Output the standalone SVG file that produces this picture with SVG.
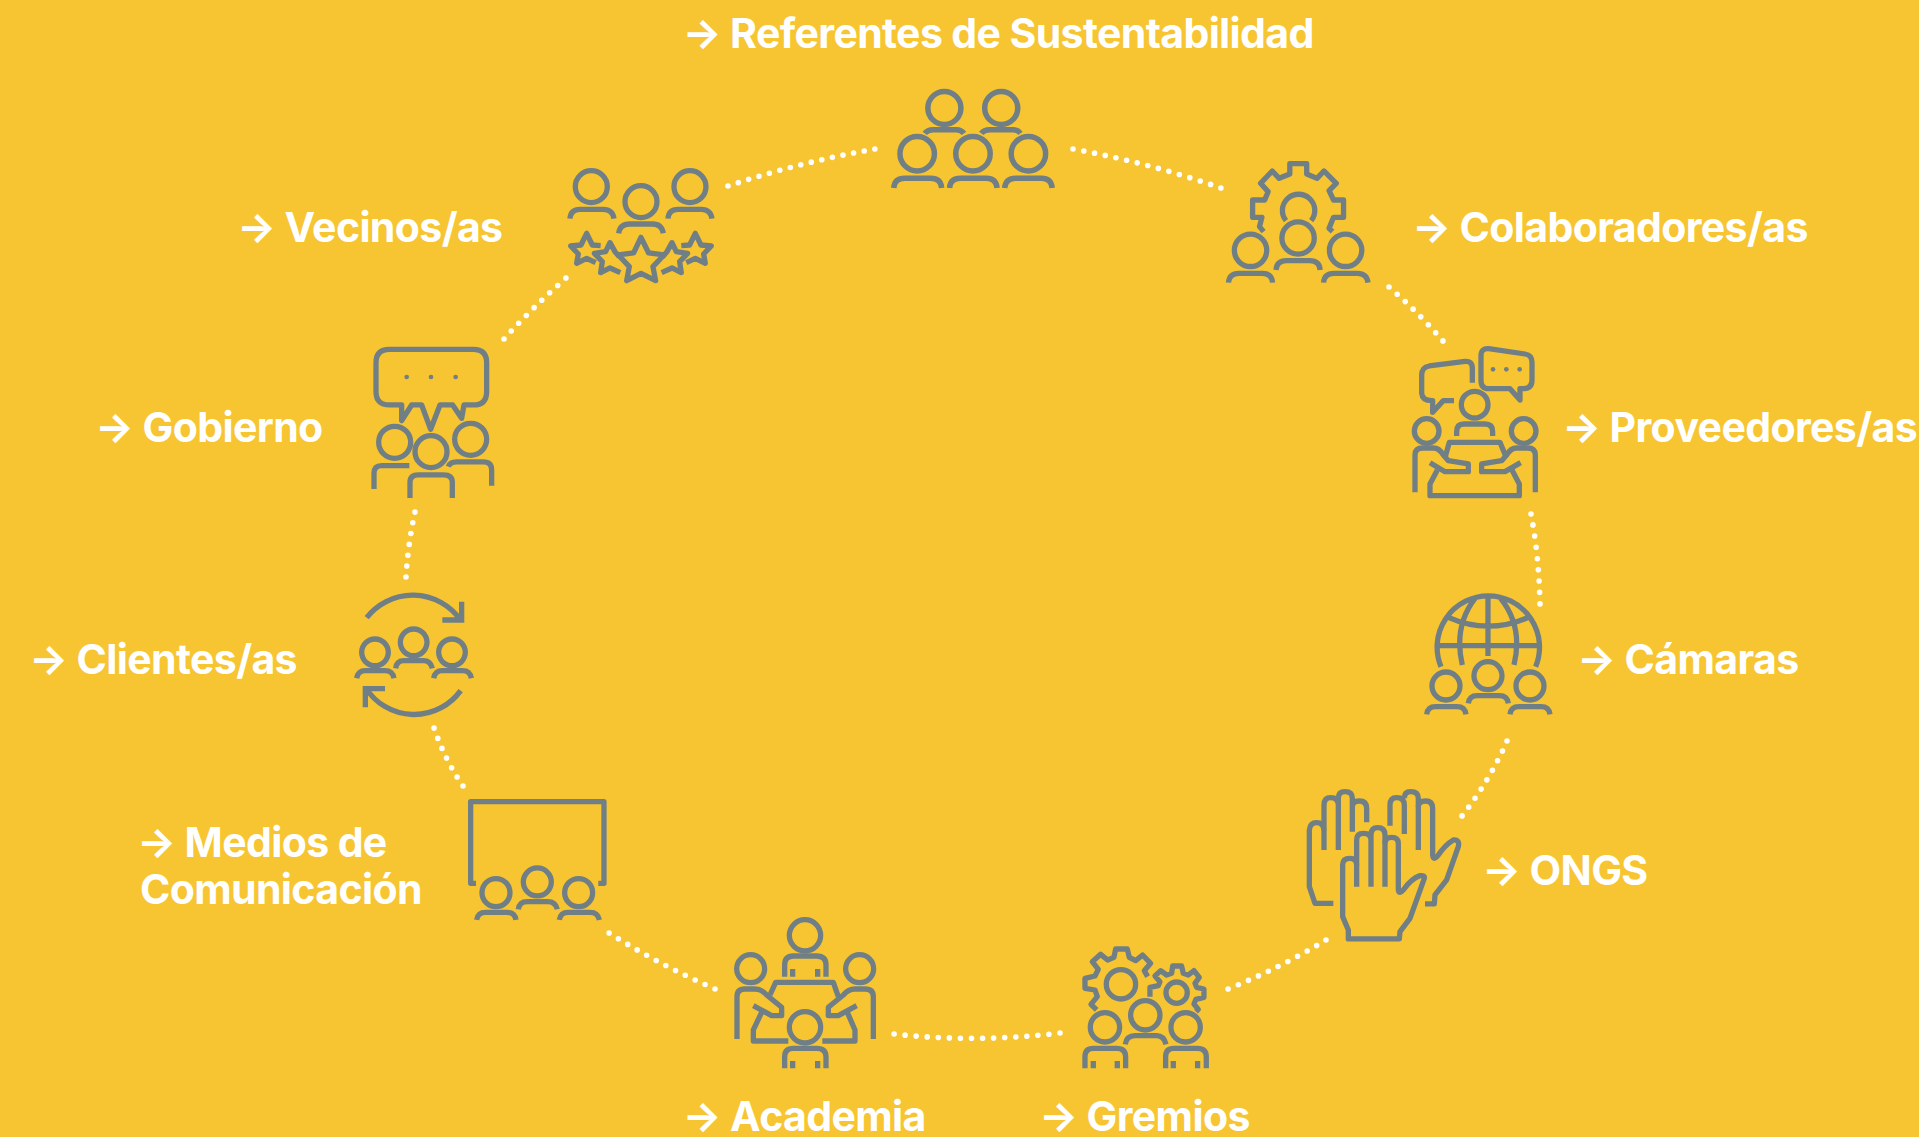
<svg xmlns="http://www.w3.org/2000/svg" width="1919" height="1137" viewBox="0 0 1919 1137">
<style>
.i *{fill:none;stroke:#707f86;stroke-width:5.3;vector-effect:non-scaling-stroke}
.i .d{fill:#707f86;stroke:none}
.i .j{stroke-linejoin:round}
.i.w *{stroke-width:5.5}
.t{font-family:Inter,"Liberation Sans",sans-serif;font-weight:700;font-size:41px;fill:#fff;letter-spacing:-.62px}
.c path{fill:none;stroke:#fff;stroke-width:5.6;stroke-linecap:round;stroke-dasharray:0 1}
</style>
<rect width="1919" height="1137" fill="#f7c531"/>
<g id="connectors" class="c">
<path pathLength="14.01" d="M1073,149Q1150,163 1221,188"/>
<path pathLength="7.01" d="M1389,287Q1418,312 1443,341"/>
<path pathLength="8.01" d="M1531,514Q1539,556 1540,604"/>
<path pathLength="8.01" d="M1507,741Q1490,780 1462,816"/>
<path pathLength="10.01" d="M1326,940Q1280,968 1228,989"/>
<path pathLength="15.01" d="M1060,1033Q975,1043 894,1034"/>
<path pathLength="11.01" d="M715,989Q660,965 609,933"/>
<path pathLength="6.01" d="M463,786Q445,760 434,728"/>
<path pathLength="6.01" d="M406,577Q408,544 415,512"/>
<path pathLength="8.01" d="M504,339Q532,308 566,278"/>
<path pathLength="14.01" d="M728,186Q800,162 875,149"/>
</g>
<g id="referentes">
<g class="i w" transform="translate(860,70) scale(.3444,.3333)">
<ellipse cx="245" cy="114" rx="48" ry="49.5"/><ellipse cx="410" cy="114" rx="48" ry="49.5"/>
<path d="M188,190Q196,179 212,179L280,179Q294,179 302,190M352,190Q360,179 376,179L444,179Q458,179 466,190"/>
<ellipse cx="166" cy="251" rx="50" ry="51.7"/><ellipse cx="328" cy="251" rx="50" ry="51.7"/><ellipse cx="489" cy="251" rx="50" ry="51.7"/>
<path d="M98,354Q100,325 130,325L205,325Q235,325 237,354M260,354Q262,325 292,325L367,325Q395,325 398,354M420,354Q423,325 452,325L527,325Q555,325 558,354"/>
</g>
<text class="t" x="682.500" y="47.500">→ Referentes de Sustentabilidad</text>
</g>
<g id="colaboradores">
<g class="i" transform="translate(860,70) scale(.3444,.3333)">
<path class="j" d="M1172,485L1160,470L1167,442L1140,442L1140,390L1175,390L1185,365L1163,340L1197,303L1217,325L1248,312L1248,281L1297,281L1297,312L1327,325L1347,303L1383,340L1362,362L1375,390L1404,390L1404,442L1375,442L1362,475L1372,485"/>
<path d="M1237,452A47,48.6 0 1 1 1310,452"/>
<ellipse cx="1272" cy="504" rx="47" ry="48.6"/><ellipse cx="1134" cy="541" rx="47" ry="48.6"/><ellipse cx="1410" cy="541" rx="47" ry="48.6"/>
<path d="M1208,600Q1210,572 1238,572L1306,572Q1334,572 1336,600M1070,638Q1072,610 1100,610L1168,610Q1196,610 1198,638M1346,638Q1348,610 1376,610L1444,610Q1472,610 1475,638"/>
</g>
<text class="t" x="1412" y="242">→ Colaboradores/as</text>
</g>
<g id="proveedores">
<g class="i" transform="translate(1380,330) scale(.3333)">
<path class="j" d="M277,158L277,115Q277,92 255,94L148,108Q125,112 125,135L125,190Q127,212 155,212L158,212L158,247L190,212L222,212"/>
<path class="j" d="M326,56L435,72Q456,75 456,97L456,150Q456,176 430,176L420,176L420,210L390,176L325,176Q303,176 303,150L303,78Q303,54 326,56Z"/>
<circle class="d" cx="339" cy="118" r="7"/><circle class="d" cx="379" cy="118" r="7"/><circle class="d" cx="419" cy="118" r="7"/>
<circle cx="284" cy="224" r="40"/><circle cx="140" cy="303" r="37"/><circle cx="431" cy="303" r="37"/>
<path d="M230,318L230,305Q230,282 252,282L315,282Q338,282 338,305L338,318"/>
<path class="j" d="M105,487L105,375Q105,354 128,354L160,354Q178,354 190,375L205,392L265,402L265,425L195,425L150,398"/>
<path class="j" d="M466,487L466,375Q466,354 443,354L410,354Q392,354 380,375L365,392L305,402L305,425L375,425L422,398"/>
<path class="j" d="M196,380L208,337L360,337L378,380M172,420L150,462L150,497L418,497L418,462L396,420"/>
</g>
<text class="t" x="1562" y="442">→ Proveedores/as</text>
</g>
<g id="camaras">
<g class="i" transform="translate(1290,580) scale(.3333)">
<path d="M453,260A153.600,153.600 0 1 1 737,260M441,197L748,197M594,48L594,228M555,55Q490,140 517,255M632,55Q700,140 672,255M475,112Q594,165 715,112"/>
<circle cx="594" cy="287" r="42"/><circle cx="468" cy="318" r="42"/><circle cx="720" cy="318" r="42"/>
<path d="M535,370Q538,347 562,347L628,347Q652,347 655,370M410,403Q413,380 437,380L501,380Q525,380 528,403M660,403Q663,380 687,380L753,380Q777,380 780,403"/>
</g>
<text class="t" x="1577" y="674">→ Cámaras</text>
</g>
<g id="ongs">
<g class="i" transform="translate(1290,580) scale(.3333)">
<path class="j" d="M158,855Q158,835 180,835Q200,835 200,855M158,855L158,1010L175,1050L175,1077L328,1077L330,1055L360,1015L403,895Q405,885 390,887Q365,895 340,930Q328,945 325,930L325,790Q325,772 305,772Q285,772 285,790L285,920"/>
<path d="M243,920L243,765Q243,743 263,743Q285,743 285,765L285,790M200,920L200,780Q200,760 220,760Q243,760 243,780"/>
<path class="j" d="M102,750Q100,728 80,728Q60,728 58,750L58,920L75,970L130,970"/>
<path d="M102,810L102,675Q102,653 122,653Q145,653 145,675L145,810M145,675L145,655Q145,635 165,635Q187,635 187,655L187,755M187,680Q187,663 208,663Q230,663 230,685L230,727"/>
<path d="M300,737L300,675Q300,653 320,653Q343,653 343,675L343,762M343,655Q343,635 362,635Q385,635 385,655L385,810"/>
<path class="j" d="M385,680Q385,663 407,663Q428,663 428,685L428,825Q430,845 445,825Q465,795 490,780Q510,778 505,800L470,900L435,945L433,972L405,972"/>
</g>
<text class="t" x="1482" y="885">→ ONGS</text>
</g>
<g id="gremios">
<g class="i" transform="translate(710,900) scale(.3333)">
<path class="j" d="M1160,330L1143,313L1162,290L1155,270L1125,265L1125,235L1155,228L1165,208L1147,185L1172,163L1193,180L1212,172L1217,147L1252,147L1258,172L1277,182L1298,165L1322,190L1303,212L1313,230"/>
<circle cx="1233" cy="253" r="44"/><circle cx="1400" cy="278" r="32"/>
<path class="j" d="M1320,290L1320,262L1345,257L1350,245L1335,228L1352,212L1370,225L1385,220L1388,198L1415,198L1420,220L1435,225L1452,212L1468,232L1455,250L1460,262L1482,267L1482,292L1458,298L1452,312L1465,328L1458,335"/>
<circle cx="1306" cy="346" r="44"/><circle cx="1185" cy="382" r="44"/><circle cx="1427" cy="382" r="44"/>
<path d="M1246,433Q1250,407 1275,407L1340,407Q1362,407 1368,433M1125,505L1125,470Q1125,445 1150,445L1220,445Q1247,445 1247,470L1247,505M1367,505L1367,470Q1367,445 1392,445L1462,445Q1489,445 1489,470L1489,505M1150,483L1150,505M1222,483L1222,505M1390,483L1390,505M1463,483L1463,505"/>
</g>
<text class="t" x="1039" y="1131">→ Gremios</text>
</g>
<g id="academia">
<g class="i" transform="translate(710,900) scale(.3333)">
<circle cx="285" cy="106" r="47"/><circle cx="122" cy="206" r="42"/><circle cx="449" cy="206" r="42"/><circle cx="285" cy="382" r="47"/>
<path d="M224,230L224,195Q224,168 250,168L320,168Q348,168 348,195L348,230M248,207L248,230M323,207L323,230"/>
<path class="j" d="M81,417L81,290Q81,267 105,267L135,267Q155,267 170,285L215,322L215,347L185,347L130,317"/>
<path class="j" d="M490,417L490,290Q490,267 465,267L435,267Q415,267 400,285L355,322L355,347L385,347L440,317"/>
<path class="j" d="M180,285L197,247L370,247L385,290M155,337L130,390L130,423L235,423M412,337L435,390L435,423L337,423"/>
<path d="M224,505L224,470Q224,445 250,445L320,445Q348,445 348,470L348,505M248,483L248,505M323,483L323,505"/>
</g>
<text class="t" x="682.500" y="1131">→ Academia</text>
</g>
<g id="medios">
<g class="i" transform="translate(340,570) scale(.3333)">
<path class="j" d="M408,940L392,940L392,695L792,695L792,940L775,940"/>
<circle cx="468" cy="968" r="42"/><circle cx="592" cy="936" r="42"/><circle cx="716" cy="968" r="42"/>
<path d="M410,1050Q413,1027 437,1027L501,1027Q525,1027 528,1050M535,1018Q538,995 562,995L623,995Q647,995 652,1018M658,1050Q661,1027 685,1027L750,1027Q774,1027 778,1050"/>
</g>
<text class="t" x="137" y="857">→ Medios de</text>
<text class="t" x="140" y="904">Comunicación</text>
</g>
<g id="clientes">
<g class="i" transform="translate(340,570) scale(.3333)">
<path d="M80,143A175,175 0 0 1 360,148M365,95L365,150L307,150M362,362A172,172 0 0 1 78,355M135,356L76,356L76,412"/>
<circle cx="105" cy="247" r="40"/><circle cx="221" cy="217" r="40"/><circle cx="336" cy="247" r="40"/>
<path d="M50,325Q54,302 76,302L135,302Q158,302 162,325M167,295Q170,272 192,272L250,272Q272,272 277,295M281,325Q285,302 307,302L368,302Q390,302 394,325"/>
</g>
<text class="t" x="29" y="674">→ Clientes/as</text>
</g>
<g id="gobierno">
<g class="i" transform="translate(360,150) scale(.3333)">
<path class="j" d="M88,598L340,598Q380,598 380,638L380,725Q380,765 340,765L312,765L305,805L278,765L240,765L212,838L185,765L155,765L125,812L125,765L88,765Q48,765 48,725L48,638Q48,598 88,598Z"/>
<circle class="d" cx="140" cy="681" r="7"/><circle class="d" cx="213" cy="681" r="7"/><circle class="d" cx="287" cy="681" r="7"/>
<circle cx="104" cy="877" r="48"/><circle cx="213" cy="905" r="48"/><circle cx="332" cy="868" r="48"/>
<path d="M42,1017L42,970Q42,947 65,947L148,947M150,1044L150,997Q150,975 175,975L250,975Q277,975 277,997L277,1044M265,950Q270,936 290,936L370,936Q395,936 395,960L395,1007"/>
</g>
<text class="t" x="95" y="442">→ Gobierno</text>
</g>
<g id="vecinos">
<g class="i" transform="translate(360,150) scale(.3333)">
<circle cx="694" cy="110" r="48"/><circle cx="843" cy="155" r="48"/><circle cx="990" cy="110" r="48"/>
<path d="M630,206Q632,178 660,178L730,178Q758,178 762,206M776,250Q780,222 808,222L878,222Q905,222 910,250M924,206Q926,178 954,178L1024,178Q1052,178 1056,206"/>
<path class="j" d="M843,262L866,309L912,315L879,350L887,392L843,370L800,392L808,350L775,315L821,309Z"/>
<path class="j" d="M722,287L697,285L680,250L663,285L632,288L655,312L650,340L680,325L707,338"/>
<path class="j" d="M778,320L765,305L750,278L737,305L703,310L727,335L722,368L750,354L781,368"/>
<path class="j" d="M908,320L921,305L936,278L949,305L983,310L959,335L964,368L936,354L905,368"/>
<path class="j" d="M964,287L989,285L1006,250L1023,285L1054,288L1031,312L1036,340L1006,325L979,338"/>
</g>
<text class="t" x="237" y="242">→ Vecinos/as</text>
</g>
</svg>
